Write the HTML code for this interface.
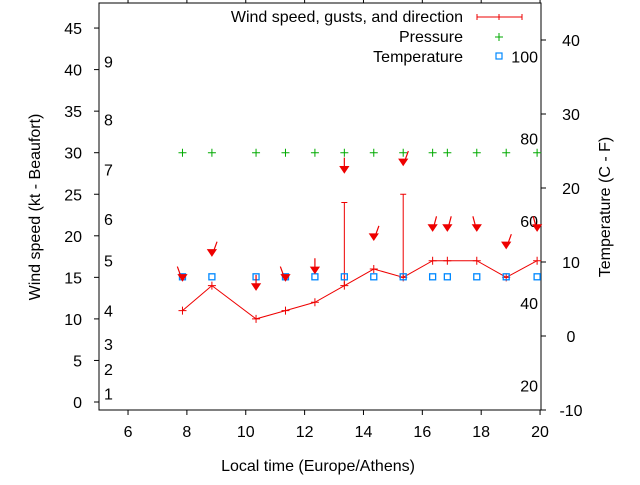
<!DOCTYPE html>
<html><head><meta charset="utf-8"><style>
body{margin:0;background:#fff}
svg text{font-family:"Liberation Sans",sans-serif;font-size:16px;fill:#000}
</style></head><body>
<svg width="640" height="480" id="c" xmlns="http://www.w3.org/2000/svg">
<text x="318" y="471" text-anchor="middle">Local time (Europe/Athens)</text>
<text transform="translate(40,207) rotate(-90)" text-anchor="middle">Wind speed (kt - Beaufort)</text>
<text transform="translate(610,207) rotate(-90)" text-anchor="middle">Temperature (C - F)</text>
<g>
<text x="463" y="22" text-anchor="end">Wind speed, gusts, and direction</text>
<text x="463" y="42" text-anchor="end">Pressure</text>
<text x="463" y="62" text-anchor="end">Temperature</text>
<path d="M477 17H522M477 14V20M522 14V20M499 14V20" stroke="#e00" fill="none"/>
<path d="M499 33V41M495 37H503" stroke="#0a0"/>
<rect x="496" y="53" width="6" height="6" fill="none" stroke="#08f" stroke-width="1.2"/>
</g>
<g id="g"></g>
</svg>
<script>
const times=[7.85,8.85,10.35,11.35,12.35,13.35,14.35,15.35,16.35,16.85,17.85,18.85,19.9];
const wind=[11,14,10,11,12,14,16,15,17,17,17,15,17];
const gusts=[null,null,null,null,null,24,null,25,null,null,null,null,null];
const pressure=[30,30,30,30,30,30,30,30,30,30,30,30,30];
const temperature=[8,8,8,8,8,8,8,8,8,8,8,8,8];
const arrowY=[14.6,17.6,13.5,14.6,15.5,27.6,19.5,28.5,20.6,20.6,20.6,18.5,20.6];
const arrowDir=[340,20,0,340,0,0,20,20,15,15,345,20,345];
const xTicks=[6,8,10,12,14,16,18,20];
const yTicks=[0,5,10,15,20,25,30,35,40,45];
const y2Ticks=[-10,0,10,20,30,40];
const bftLabels=['1','2','3','4','5','6','7','8','9'];
const bftVals=[1,4,7,11,17,22,28,34,41];
const fLabels=['20','40','60','80','100'];
const fVals=[20,40,60,80,100];
const L=99,R=541,T=3,B=410;
const X=v=>98.6+(v-5)*29.43;
const Y=v=>402-v*8.31;
const Y2=v=>410-(v+10)*7.4;
const FtoC=f=>(f-32)*5/9;
const g=document.getElementById('g');
const NS='http://www.w3.org/2000/svg';
function mk(t,a,txt){const e=document.createElementNS(NS,t);for(const k in a)e.setAttribute(k,a[k]);if(txt!=null)e.textContent=txt;g.appendChild(e);return e;}
let e=mk('rect',{x:L,y:T,width:R-L,height:B-T,fill:'none',stroke:'#000'});


xTicks.forEach(v=>{const x=X(v);
 let t=mk('path',{d:`M${x} ${B}V${B+5}M${x} ${T}V${T-5}`,stroke:'#000'});
 
 
 let l=mk('text',{x:x,y:B+27,'text-anchor':'middle'},String(v));
 
 });
yTicks.forEach(v=>{const y=Y(v);
 let t=mk('path',{d:`M${L} ${y}H${L-5}`,stroke:'#000'});
 
 
 let l=mk('text',{x:L-17,y:y+6,'text-anchor':'end'},String(v));
 
 });
y2Ticks.forEach(v=>{const y=Y2(v);
 let t=mk('path',{d:`M${R} ${y}H${R+5}`,stroke:'#000'});
 
 
 let l=mk('text',{x:R+30,y:y+6,'text-anchor':'middle'},String(v));
 
 });
bftLabels.forEach((s,i)=>{let l=mk('text',{x:104,y:Y(bftVals[i])+6},s);
 
 });
fLabels.forEach((s,i)=>{let l=mk('text',{x:538,y:Y2(FtoC(fVals[i]))+6,'text-anchor':'end'},s);
 
 });
let pl=mk('polyline',{points:times.map((t,i)=>X(t)+','+Y(wind[i])).join(' '),fill:'none',stroke:'#e00'});


times.forEach((t,i)=>{const x=X(t),y=Y(wind[i]);
 let p=mk('path',{d:`M${x-4} ${y}H${x+4}M${x} ${y-4}V${y+4}`,stroke:'#e00'});
 
 
 if(gusts[i]!=null){const gy=Y(gusts[i]);
  let b=mk('path',{d:`M${x} ${y}V${gy}M${x-3} ${gy}H${x+3}`,stroke:'#e00'});
  
  }
 const py=Y(pressure[i]);
 let pp=mk('path',{d:`M${x-4} ${py}H${x+4}M${x} ${py-4}V${py+4}`,stroke:'#0a0'});
 
 
 const ty=Y2(temperature[i]);
 let tr=mk('rect',{x:x-3,y:ty-3,width:6,height:6,fill:'none',stroke:'#08f','stroke-width':1.3});
 
 
 const ay=Y(arrowY[i]),a=arrowDir[i]*Math.PI/180,len=15;
 const tx=x+Math.sin(a)*len,tyy=ay-Math.cos(a)*len;
 let ar=mk('path',{d:`M${tx} ${tyy}L${x} ${ay}M${x-4} ${ay-6}L${x} ${ay}L${x+4} ${ay-6}Z`,stroke:'#e00',fill:'#e00','stroke-width':1.2});
 
 
});
</script>
</body></html>
